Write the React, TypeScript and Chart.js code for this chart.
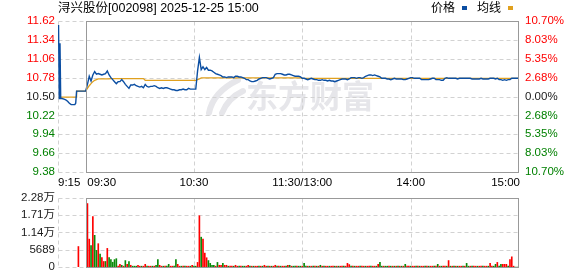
import React, { useEffect, useRef } from "react";
import { Chart, registerables } from "chart.js";

Chart.register(...registerables);

// ---------- data ----------
const titleText = "浔兴股份[002098] 2025-12-25 15:00";
const legendLabels = ["价格", "均线"];
const watermarkText = "东方财富";
const prevClose = 10.5;

const priceTicks = [9.38, 9.66, 9.94, 10.22, 10.5, 10.78, 11.06, 11.34, 11.62];
const priceTickLabels = ["9.38", "9.66", "9.94", "10.22", "10.50", "10.78", "11.06", "11.34", "11.62"];
const pctTickLabels = ["10.70%", "8.03%", "5.35%", "2.68%", "0.00%", "2.68%", "5.35%", "8.03%", "10.70%"];

const timeLabels = ["9:15", "09:30", "10:30", "11:30/13:00", "14:00", "15:00"];
const timeLabelMinutes = [-15.3, 0, 60, 120, 180, 240];
const gridMinutes = [-15.3, 60, 120, 180];
const X_MIN = -15.3;
const X_MAX = 240;

// call auction 9:15-9:25 (minutes relative to 9:30)
const preMinutes = [-15, -14.6, -14.2, -13.8, -13, -12, -11, -10, -9, -8, -7, -6, -5.5, -5];
const prePrices = [11.56, 10.47, 11.29, 10.47, 10.47, 10.46, 10.45, 10.43, 10.4, 10.38, 10.38, 10.38, 10.4, 10.58];
const preAvgMinutes = [-15, -5.2, -5];
const preAvgPrices = [10.49, 10.49, 10.58];

// 9:30 .. 15:00, one value per minute (241)
const prices = [
  10.58, 10.68, 10.8, 10.73, 10.82, 10.87, 10.83, 10.84, 10.83, 10.82,
  10.83, 10.84, 10.88, 10.82, 10.78, 10.75, 10.72, 10.69, 10.72, 10.72,
  10.75, 10.72, 10.68, 10.65, 10.62, 10.67, 10.67, 10.68, 10.66, 10.65,
  10.64, 10.65, 10.63, 10.68, 10.65, 10.64, 10.65, 10.65, 10.66, 10.65,
  10.63, 10.62, 10.63, 10.62, 10.63, 10.63, 10.62, 10.61, 10.6, 10.6,
  10.59, 10.59, 10.6, 10.6, 10.61, 10.6, 10.6, 10.62, 10.61, 10.61,
  10.61, 10.61, 10.88, 11.08, 10.9, 10.94, 10.9, 10.93, 10.89, 10.89,
  10.88, 10.86, 10.84, 10.83, 10.82, 10.81, 10.79, 10.79, 10.78, 10.79,
  10.79, 10.79, 10.78, 10.8, 10.8, 10.79, 10.79, 10.78, 10.77, 10.75,
  10.75, 10.73, 10.72, 10.72, 10.73, 10.74, 10.76, 10.77, 10.78, 10.78,
  10.78, 10.77, 10.76, 10.77, 10.78, 10.83, 10.84, 10.84, 10.84, 10.83,
  10.82, 10.82, 10.83, 10.83, 10.82, 10.81, 10.8, 10.8, 10.8, 10.79,
  10.77, 10.77, 10.76, 10.75, 10.76, 10.77, 10.76, 10.75, 10.75, 10.74,
  10.74, 10.75, 10.74, 10.74, 10.73, 10.74, 10.73, 10.73, 10.72, 10.73,
  10.74, 10.75, 10.76, 10.76, 10.76, 10.75, 10.76, 10.78, 10.78, 10.78,
  10.77, 10.78, 10.78, 10.77, 10.78, 10.8, 10.81, 10.82, 10.82, 10.81,
  10.82, 10.81, 10.8, 10.79, 10.77, 10.77, 10.77, 10.76, 10.76, 10.75,
  10.76, 10.77, 10.76, 10.76, 10.76, 10.76, 10.75, 10.75, 10.76, 10.77,
  10.78, 10.78, 10.77, 10.77, 10.77, 10.77, 10.75, 10.75, 10.75, 10.75,
  10.75, 10.76, 10.77, 10.77, 10.75, 10.75, 10.75, 10.74, 10.74, 10.77,
  10.78, 10.77, 10.77, 10.77, 10.77, 10.77, 10.76, 10.77, 10.77, 10.77,
  10.77, 10.77, 10.77, 10.77, 10.76, 10.76, 10.76, 10.76, 10.76, 10.77,
  10.76, 10.76, 10.76, 10.76, 10.77, 10.77, 10.77, 10.76, 10.77, 10.75,
  10.75, 10.74, 10.75, 10.74, 10.75, 10.75, 10.77, 10.77, 10.77, 10.77, 10.77,
];

const avgPrices = [
  10.58, 10.62, 10.66, 10.69, 10.72, 10.74, 10.75, 10.76, 10.76, 10.76,
  10.76, 10.76, 10.76, 10.76, 10.765, 10.765, 10.765, 10.765, 10.765, 10.765,
  10.765, 10.765, 10.765, 10.765, 10.765, 10.765, 10.765, 10.765, 10.765, 10.765,
  10.765, 10.765, 10.765, 10.74, 10.74, 10.74, 10.74, 10.74, 10.74, 10.74,
  10.74, 10.74, 10.74, 10.74, 10.74, 10.74, 10.74, 10.74, 10.74, 10.74,
  10.74, 10.74, 10.74, 10.74, 10.74, 10.74, 10.74, 10.74, 10.74, 10.74,
  10.74, 10.74, 10.75, 10.76, 10.775, 10.775, 10.775, 10.775, 10.775, 10.775,
  10.775, 10.775, 10.775, 10.775, 10.775, 10.775, 10.775, 10.775, 10.775, 10.775,
  10.775, 10.775, 10.775, 10.775, 10.775, 10.775, 10.775, 10.775, 10.775, 10.775,
  10.775, 10.775, 10.775, 10.775, 10.775, 10.775, 10.775, 10.775, 10.775, 10.775,
  10.775, 10.775, 10.775, 10.775, 10.775, 10.775, 10.775, 10.775, 10.775, 10.775,
  10.775, 10.775, 10.775, 10.775, 10.775, 10.775, 10.775, 10.775, 10.775, 10.775,
  10.77, 10.77, 10.77, 10.77, 10.77, 10.77, 10.77, 10.77, 10.77, 10.77,
  10.77, 10.77, 10.77, 10.77, 10.77, 10.77, 10.77, 10.77, 10.77, 10.77,
  10.77, 10.77, 10.77, 10.77, 10.77, 10.77, 10.77, 10.77, 10.77, 10.77,
  10.77, 10.77, 10.77, 10.77, 10.77, 10.77, 10.77, 10.77, 10.77, 10.77,
  10.77, 10.77, 10.77, 10.77, 10.77, 10.77, 10.77, 10.77, 10.77, 10.77,
  10.77, 10.77, 10.77, 10.77, 10.77, 10.77, 10.77, 10.77, 10.77, 10.77,
  10.77, 10.77, 10.77, 10.77, 10.77, 10.77, 10.77, 10.77, 10.77, 10.77,
  10.77, 10.77, 10.77, 10.77, 10.77, 10.77, 10.77, 10.77, 10.77, 10.77,
  10.77, 10.77, 10.77, 10.77, 10.77, 10.77, 10.77, 10.77, 10.77, 10.77,
  10.77, 10.77, 10.77, 10.77, 10.77, 10.77, 10.77, 10.77, 10.77, 10.77,
  10.77, 10.77, 10.77, 10.77, 10.77, 10.77, 10.77, 10.77, 10.77, 10.77,
  10.77, 10.77, 10.77, 10.77, 10.77, 10.77, 10.77, 10.77, 10.77, 10.77, 10.77,
];

// volume: call-auction bar, then one bar per minute (minutes 1..240)
const preVolMinutes = [-4];
const preVolumes = [6765];
const preVolDir = "r";
const volumes = [
  20900, 9200, 7070, 16600, 10450, 5500, 7700, 4300, 3100, 1850,
  1850, 6150, 3100, 2460, 1600, 2460, 2770, 300, 920, 600,
  300, 2150, 920, 1850, 600, 300, 300, 300, 600, 300,
  300, 300, 920, 300, 300, 300, 300, 300, 600, 2460,
  600, 300, 300, 300, 300, 920, 300, 300, 300, 2460,
  920, 300, 300, 300, 300, 300, 300, 300, 600, 300,
  300, 1540, 16900, 9840, 9225, 4600, 3075, 2150, 1230, 600,
  600, 300, 1540, 600, 600, 1230, 600, 600, 300, 300,
  300, 300, 600, 300, 300, 300, 300, 300, 300, 600,
  300, 300, 300, 300, 300, 300, 300, 300, 600, 300,
  300, 300, 300, 300, 600, 300, 300, 300, 300, 300,
  300, 600, 600, 300, 300, 300, 300, 300, 300, 300,
  1230, 300, 300, 300, 300, 300, 300, 300, 300, 600,
  300, 300, 300, 300, 300, 300, 300, 300, 300, 300,
  300, 300, 300, 300, 1230, 820, 300, 300, 300, 300,
  300, 300, 300, 300, 300, 300, 300, 300, 300, 300,
  300, 920, 1540, 300, 300, 300, 300, 300, 300, 300,
  300, 300, 300, 300, 300, 300, 920, 300, 300, 300,
  300, 300, 300, 300, 300, 300, 300, 300, 300, 300,
  300, 300, 300, 300, 920, 300, 300, 300, 300, 300,
  2150, 300, 300, 300, 300, 300, 300, 300, 300, 300,
  1230, 300, 300, 300, 300, 300, 300, 300, 300, 300,
  300, 300, 300, 1230, 300, 300, 920, 1540, 300, 920,
  920, 920, 920, 300, 2460, 3380, 300, 0, 0, 9225,
];
const volDir = [
  "rrgrggrgrr", "grgggggrrg", "rgrgrgggrr", "grrgrrgrgg", "rrgrggrrgg", "rrgrgrrgrg",
  "grrgrrrggg", "grgrrgrrgr", "rgrrgrggrr", "grgrrgrgrr", "grgrrgrgrr", "grgrggrggr",
  "ggrgrgrgrg", "rgrrgrrgrg", "rrgrrrgrgr", "rgrrgrrgrr", "grggrggrgr", "grgrgrgrrg",
  "rrgrgrrgrg", "rrgrgrgrrg", "rgrgrgrrgr", "ggrgrrgrrg", "rrgrrggrgg", "rrrgrrrggr",
].join("");

const volTicks = [0, 5689, 11378, 17067, 22756];
const volTickLabels = ["0", "5689", "1.14万", "1.71万", "2.28万"];

// ---------- style ----------
const FONT = "'Liberation Sans', 'Noto Sans CJK SC', sans-serif";
const RED = "#ff0000";
const GREEN = "#008000";
const NEUTRAL = "#1a1a1a";
const PRICE_COLOR = "#0b4ea2";
const AVG_COLOR = "#e0a01e";
const GRID_COLOR = "#d2d2d2";
const FRAME_COLOR = "#999999";
const BAR_RED = "#ff0000";
const BAR_GREEN = "#0a8a0a";
const WM_COLOR = "#e6e6ea";

function tickColor(v: number) {
  if (v > prevClose + 1e-9) return RED;
  if (v < prevClose - 1e-9) return GREEN;
  return NEUTRAL;
}

function seg(ctx: CanvasRenderingContext2D, x1: number, y1: number, x2: number, y2: number) {
  ctx.beginPath();
  ctx.moveTo(x1, y1);
  ctx.lineTo(x2, y2);
  ctx.stroke();
}

function drawWatermark(ctx: CanvasRenderingContext2D) {
  ctx.save();
  ctx.fillStyle = WM_COLOR;
  ctx.strokeStyle = WM_COLOR;
  ctx.font = "bold 32px 'Noto Sans CJK SC', sans-serif";
  ctx.textBaseline = "middle";
  ctx.textAlign = "left";
  ctx.fillText(watermarkText, 246, 96);
  ctx.lineCap = "round";
  ctx.lineWidth = 6;
  ctx.beginPath();
  ctx.moveTo(209, 113);
  ctx.quadraticCurveTo(213, 92, 238, 80);
  ctx.stroke();
  ctx.beginPath();
  ctx.moveTo(222, 113);
  ctx.quadraticCurveTo(228, 98, 243, 91);
  ctx.stroke();
  ctx.restore();
}

function makeFramePlugin(hTicks: number[], withWatermark: boolean) {
  return {
    id: "frameGrid",
    beforeDatasetsDraw(chart: any) {
      const { ctx, chartArea: a, scales } = chart;
      const xs = scales.x;
      const ys = scales.y;
      ctx.save();
      if (withWatermark) drawWatermark(ctx);
      ctx.lineWidth = 1;
      ctx.strokeStyle = GRID_COLOR;
      ctx.setLineDash([4, 3]);
      const left = Math.round(xs.getPixelForValue(X_MIN)) + 0.5;
      const right = Math.round(xs.getPixelForValue(X_MAX)) - 0.5;
      const top = Math.round(a.top) + 0.5;
      const bottom = Math.round(a.bottom) + 0.5;
      for (const v of hTicks) {
        const y = Math.round(ys.getPixelForValue(v)) + 0.5;
        seg(ctx, left, y, right, y);
      }
      for (const m of gridMinutes) {
        const x = Math.round(xs.getPixelForValue(m)) + 0.5;
        seg(ctx, x, top, x, bottom);
      }
      ctx.restore();
    },
    afterDatasetsDraw(chart: any) {
      const { ctx, chartArea: a, scales } = chart;
      const xs = scales.x;
      ctx.save();
      ctx.lineWidth = 1;
      ctx.strokeStyle = FRAME_COLOR;
      ctx.setLineDash([]);
      const x0 = Math.round(xs.getPixelForValue(0)) + 0.5;
      const x1 = Math.round(xs.getPixelForValue(X_MAX)) - 0.5;
      const top = Math.round(a.top) + 0.5;
      const bottom = Math.round(a.bottom) + 0.5;
      ctx.strokeRect(x0, top, x1 - x0, bottom - top);
      ctx.restore();
    },
  };
}

const textPlugin = {
  id: "texts",
  afterDraw(chart: any) {
    const { ctx, scales } = chart;
    const xs = scales.x;
    ctx.save();
    ctx.textBaseline = "middle";
    ctx.fillStyle = "#000";
    ctx.font = `12.5px ${FONT}`;
    ctx.textAlign = "left";
    ctx.fillText(titleText, Math.round(xs.getPixelForValue(X_MIN)), 9);
    // legend
    ctx.font = `12px ${FONT}`;
    ctx.fillText(legendLabels[0], 431, 9);
    ctx.fillStyle = PRICE_COLOR;
    ctx.fillRect(462, 6, 5, 4);
    ctx.fillStyle = "#000";
    ctx.fillText(legendLabels[1], 477, 9);
    ctx.fillStyle = AVG_COLOR;
    ctx.fillRect(508, 6, 5, 4);
    // time labels
    ctx.fillStyle = "#000";
    ctx.font = `11.5px ${FONT}`;
    timeLabels.forEach((t, i) => {
      const x = xs.getPixelForValue(timeLabelMinutes[i]);
      if (i === 0) {
        ctx.textAlign = "left";
        ctx.fillText(t, x, 183);
      } else if (i === 1) {
        ctx.textAlign = "left";
        ctx.fillText(t, x + 1.7, 183);
      } else if (i === timeLabels.length - 1) {
        ctx.textAlign = "right";
        ctx.fillText(t, x + 1, 183);
      } else {
        ctx.textAlign = "center";
        ctx.fillText(t, x, 183);
      }
    });
    ctx.restore();
  },
};

export default function App() {
  const priceRef = useRef<HTMLCanvasElement>(null);
  const volRef = useRef<HTMLCanvasElement>(null);

  useEffect(() => {
    document.body.style.margin = "0";
    const priceData = [
      ...preMinutes.map((m, i) => ({ x: m, y: prePrices[i] })),
      ...prices.map((p, i) => ({ x: i, y: p })),
    ];
    const avgData = [
      ...preAvgMinutes.map((m, i) => ({ x: m, y: preAvgPrices[i] })),
      ...avgPrices.map((p, i) => ({ x: i, y: p })),
    ];

    const priceChart = new Chart(priceRef.current as HTMLCanvasElement, {
      type: "line",
      data: {
        datasets: [
          { data: priceData, borderColor: PRICE_COLOR, borderWidth: 1.4, pointRadius: 0, tension: 0, fill: false },
          { data: avgData, borderColor: AVG_COLOR, borderWidth: 1.3, pointRadius: 0, tension: 0, fill: false },
        ],
      },
      options: {
        animation: false,
        responsive: false,
        events: [],
        layout: { padding: { top: 21, bottom: 18, left: 0, right: 0 } },
        plugins: { legend: { display: false }, tooltip: { enabled: false }, title: { display: false } },
        scales: {
          x: { type: "linear", min: X_MIN, max: X_MAX, display: false, offset: false },
          y: {
            type: "linear",
            position: "left",
            min: priceTicks[0],
            max: priceTicks[priceTicks.length - 1],
            afterBuildTicks: (s: any) => {
              s.ticks = priceTicks.map((v) => ({ value: v }));
            },
            afterFit: (s: any) => {
              s.width = 58;
            },
            grid: { display: false, drawTicks: false },
            border: { display: false },
            ticks: {
              autoSkip: false,
              padding: 3,
              font: { family: FONT, size: 11.5 },
              color: (c: any) => tickColor(priceTicks[c.index]),
              callback: (_v: any, i: number) => priceTickLabels[i],
            },
          },
          y2: {
            type: "linear",
            position: "right",
            min: priceTicks[0],
            max: priceTicks[priceTicks.length - 1],
            afterBuildTicks: (s: any) => {
              s.ticks = priceTicks.map((v) => ({ value: v }));
            },
            afterFit: (s: any) => {
              s.width = 59;
            },
            grid: { display: false, drawTicks: false },
            border: { display: false },
            ticks: {
              autoSkip: false,
              padding: 6,
              font: { family: FONT, size: 11.5 },
              color: (c: any) => tickColor(priceTicks[c.index]),
              callback: (_v: any, i: number) => pctTickLabels[i],
            },
          },
        },
      } as any,
      plugins: [makeFramePlugin(priceTicks, true), textPlugin],
    });

    const volData = [
      ...preVolMinutes.map((m, i) => ({ x: m, y: preVolumes[i] })),
      ...volumes.map((v, i) => ({ x: i + 1, y: v })),
    ];
    const dirs = preVolDir + volDir;
    const volColors = dirs.split("").map((d) => (d === "r" ? BAR_RED : BAR_GREEN));

    const volChart = new Chart(volRef.current as HTMLCanvasElement, {
      type: "bar",
      data: {
        datasets: [
          {
            data: volData,
            backgroundColor: volColors,
            borderWidth: 0,
            barThickness: 1,
            grouped: false,
          },
        ],
      },
      options: {
        animation: false,
        responsive: false,
        events: [],
        layout: { padding: { top: 8, bottom: 7, left: 0, right: 59 } },
        plugins: { legend: { display: false }, tooltip: { enabled: false } },
        scales: {
          x: { type: "linear", min: X_MIN, max: X_MAX, display: false, offset: false },
          y: {
            type: "linear",
            position: "left",
            min: volTicks[0],
            max: volTicks[volTicks.length - 1],
            afterBuildTicks: (s: any) => {
              s.ticks = volTicks.map((v) => ({ value: v }));
            },
            afterFit: (s: any) => {
              s.width = 58;
            },
            grid: { display: false, drawTicks: false },
            border: { display: false },
            ticks: {
              autoSkip: false,
              padding: 3,
              font: { family: FONT, size: 11.5 },
              color: NEUTRAL,
              callback: (_v: any, i: number) => volTickLabels[i],
            },
          },
        },
      } as any,
      plugins: [makeFramePlugin(volTicks, false)],
    });

    return () => {
      priceChart.destroy();
      volChart.destroy();
    };
  }, []);

  return (
    <div style={{ position: "relative", width: 578, height: 276, background: "#fff", overflow: "hidden" }}>
      <canvas ref={priceRef} width={578} height={190} style={{ position: "absolute", left: 0, top: 0 }} />
      <canvas ref={volRef} width={578} height={89} style={{ position: "absolute", left: 0, top: 188 }} />
    </div>
  );
}
